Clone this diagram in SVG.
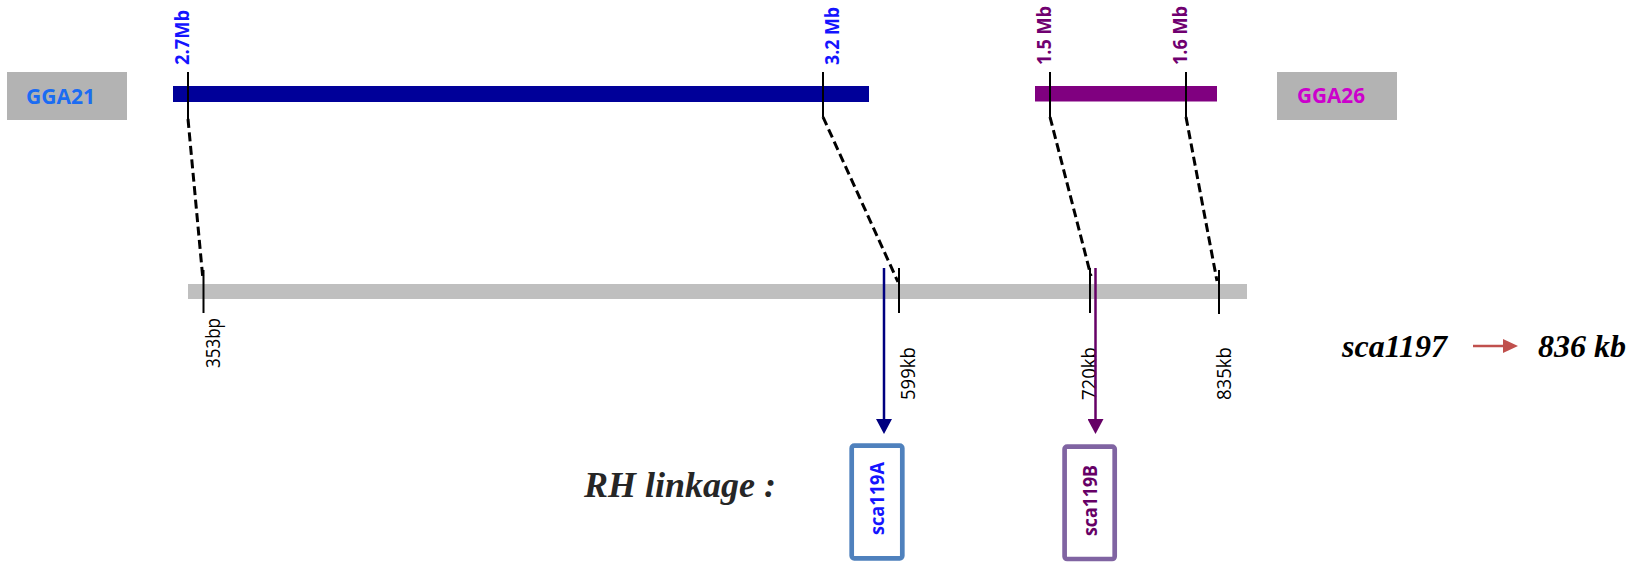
<svg xmlns="http://www.w3.org/2000/svg" width="1643" height="563" viewBox="0 0 1643 563">
<style>
.cal{font-family:"Open Sans","Noto Sans","DejaVu Sans",sans-serif;}
.b{font-weight:bold;}
.lab{font-size:20px;}
.tick{stroke:#000;stroke-width:2;fill:none;}
.dash{stroke:#000;stroke-width:3;stroke-dasharray:9 4.5;fill:none;}
.ser{font-family:"Liberation Serif","Times New Roman",serif;font-weight:bold;font-style:italic;}
</style>
<defs>
<marker id="ahBlue" viewBox="0 0 15 16" refX="0" refY="8" markerWidth="15" markerHeight="16" markerUnits="userSpaceOnUse" orient="auto"><path d="M0,0 L15,8 L0,16 Z" fill="#000080"/></marker>
<marker id="ahPurple" viewBox="0 0 15 16" refX="0" refY="8" markerWidth="15" markerHeight="16" markerUnits="userSpaceOnUse" orient="auto"><path d="M0,0 L15,8 L0,16 Z" fill="#660066"/></marker>
<marker id="ahRed" viewBox="0 0 15 14" refX="0" refY="7" markerWidth="15" markerHeight="14" markerUnits="userSpaceOnUse" orient="auto"><path d="M0,0 L15,7 L0,14 Z" fill="#c0504d"/></marker>
</defs>
<rect width="1643" height="563" fill="#ffffff"/>

<g id="GGA21">
<rect x="7" y="72" width="120" height="48" fill="#b3b3b3"/>
<text class="cal b" x="26" y="104" font-size="21" fill="#1b6cf2" textLength="69" lengthAdjust="spacingAndGlyphs">GGA21</text>
</g>
<g id="GGA26">
<rect x="1277" y="72" width="120" height="48" fill="#b3b3b3"/>
<text class="cal b" x="1297" y="103" font-size="21" fill="#cc00cc" textLength="68" lengthAdjust="spacingAndGlyphs">GGA26</text>
</g>

<g id="bar-GGA21">
<rect x="173" y="86" width="696" height="16" fill="#000099"/>
</g>
<g id="bar-GGA26">
<rect x="1035" y="86" width="182" height="15.5" fill="#800080"/>
</g>
<g id="bar-sca1197">
<rect x="188" y="284" width="1059" height="15" fill="#bfbfbf"/>
</g>

<g id="top-ticks">
<line class="tick" x1="188" y1="72" x2="188" y2="120"/>
<line class="tick" x1="823" y1="72" x2="823" y2="117"/>
<line class="tick" x1="1050" y1="72" x2="1050" y2="117"/>
<line class="tick" x1="1186" y1="72" x2="1186" y2="117"/>
</g>
<g id="top-labels" class="cal b lab">
<text transform="translate(189,65) rotate(-90)" fill="#1414ff" textLength="55" lengthAdjust="spacingAndGlyphs">2.7Mb</text>
<text transform="translate(839,65) rotate(-90)" fill="#1414ff" textLength="58" lengthAdjust="spacingAndGlyphs">3.2 Mb</text>
<text transform="translate(1051,65) rotate(-90)" fill="#700070" textLength="59" lengthAdjust="spacingAndGlyphs">1.5 Mb</text>
<text transform="translate(1187,65) rotate(-90)" fill="#700070" textLength="59" lengthAdjust="spacingAndGlyphs">1.6 Mb</text>
</g>

<g id="bottom-ticks">
<line class="tick" x1="203.5" y1="270" x2="203.5" y2="313"/>
<line class="tick" x1="899" y1="268" x2="899" y2="313"/>
<line class="tick" x1="1090" y1="268" x2="1090" y2="313"/>
<line class="tick" x1="1219" y1="270" x2="1219" y2="314"/>
</g>
<g id="bottom-labels" class="cal lab" fill="#000000">
<text transform="translate(219.5,368) rotate(-90)" textLength="50" lengthAdjust="spacingAndGlyphs">353bp</text>
<text transform="translate(915,400) rotate(-90)" textLength="53" lengthAdjust="spacingAndGlyphs">599kb</text>
<text transform="translate(1096,400) rotate(-90)" textLength="53" lengthAdjust="spacingAndGlyphs">720kb</text>
<text transform="translate(1231,400) rotate(-90)" textLength="53" lengthAdjust="spacingAndGlyphs">835kb</text>
</g>

<g id="connectors">
<line class="dash" x1="188" y1="119" x2="203" y2="280"/>
<line class="dash" x1="823" y1="117" x2="898" y2="282"/>
<line class="dash" x1="1050" y1="117" x2="1091" y2="276"/>
<line class="dash" x1="1186" y1="117" x2="1217" y2="281"/>
<line x1="884" y1="268" x2="884" y2="419" stroke="#000080" stroke-width="2.5" marker-end="url(#ahBlue)"/>
<line x1="1095.5" y1="268" x2="1095.5" y2="419" stroke="#660066" stroke-width="2.5" marker-end="url(#ahPurple)"/>
<line x1="1473" y1="346" x2="1503" y2="346" stroke="#c0504d" stroke-width="2.5" marker-end="url(#ahRed)"/>
</g>

<g id="sca119A">
<rect x="851.7" y="445.7" width="50.6" height="112.6" rx="2.5" fill="#ffffff" stroke="#4f81bd" stroke-width="4.7"/>
<text class="cal b lab" transform="translate(884.3,535) rotate(-90)" fill="#1414ff" textLength="73" lengthAdjust="spacingAndGlyphs">sca119A</text>
</g>
<g id="sca119B">
<rect x="1064.6" y="446.6" width="50.1" height="112.4" rx="2.5" fill="#ffffff" stroke="#8064a2" stroke-width="4.7"/>
<text class="cal b lab" transform="translate(1096.5,536) rotate(-90)" fill="#660066" textLength="71" lengthAdjust="spacingAndGlyphs">sca119B</text>
</g>

<g id="rh-label">
<text class="ser" x="584" y="497" font-size="36" fill="#262626">RH linkage :</text>
</g>
<g id="sca1197-label">
<text class="ser" x="1342" y="357" font-size="32" fill="#000000">sca1197</text>
<text class="ser" x="1538" y="357" font-size="32" fill="#000000">836 kb</text>
</g>
</svg>
